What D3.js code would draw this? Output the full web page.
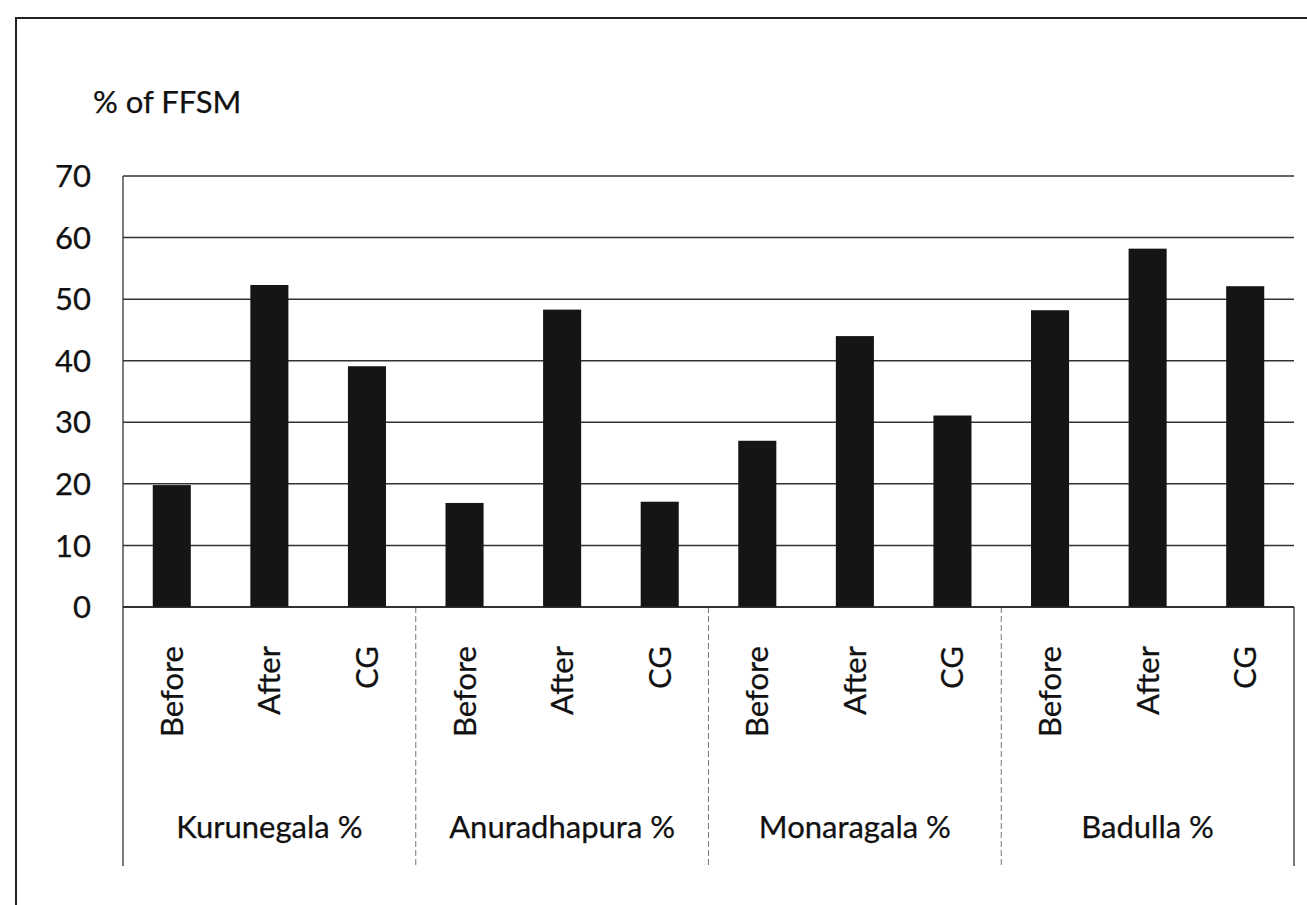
<!DOCTYPE html>
<meta charset="utf-8">
<style>
body { margin: 0; background: #fff; }
svg { font-family: Lato, "Open Sans", sans-serif; }
text { fill: #111; stroke: #111; stroke-width: 0.25px; }
</style>
<svg width="1307" height="905"></svg>
<script src="https://d3js.org/d3.v7.min.js"></script>
<script>

var districts = ["Kurunegala %", "Anuradhapura %", "Monaragala %", "Badulla %"];
var phases = ["Before", "After", "CG"];
var values = [
  [19.8, 52.3, 39.1],
  [16.9, 48.3, 17.1],
  [27.0, 44.0, 31.1],
  [48.2, 58.2, 52.1]
];
var yTicks = [0, 10, 20, 30, 40, 50, 60, 70];

var svg = d3.select("svg"),
    margin = {top: 176, right: 13, bottom: 298, left: 123},
    width = +svg.attr("width"),
    height = +svg.attr("height");

var x0 = d3.scaleBand()
    .domain(districts)
    .range([margin.left, width - margin.right]);

var x1 = d3.scaleBand()
    .domain(phases)
    .range([0, x0.bandwidth()])
    .paddingInner(0.61)
    .paddingOuter(0.305);

var y = d3.scaleLinear()
    .domain([0, 70])
    .range([height - margin.bottom, margin.top]);

// outer frame of the figure
svg.append("rect")
    .attr("x", 16).attr("y", 18)
    .attr("width", width + 20).attr("height", height + 20)
    .attr("fill", "none")
    .attr("stroke", "#222")
    .attr("stroke-width", 2);

svg.append("text")
    .attr("x", 93).attr("y", 113)
    .attr("font-size", 31)
    .text("% of FFSM");

// gridlines
svg.append("g")
  .selectAll("line")
  .data(yTicks)
  .enter().append("line")
    .attr("x1", margin.left)
    .attr("x2", width - margin.right)
    .attr("y1", function(d) { return y(d); })
    .attr("y2", function(d) { return y(d); })
    .attr("stroke", "#333")
    .attr("stroke-width", 1.5);

// y labels
svg.append("g")
  .selectAll("text")
  .data(yTicks)
  .enter().append("text")
    .attr("x", 91)
    .attr("y", function(d) { return y(d); })
    .attr("dy", "0.36em")
    .attr("text-anchor", "end")
    .attr("font-size", 31)
    .text(function(d) { return d; });

// left axis line, right edge, group dividers
var axisBottom = height - margin.bottom;
var dividerBottom = 866;

svg.append("line")
    .attr("x1", margin.left).attr("x2", margin.left)
    .attr("y1", margin.top).attr("y2", dividerBottom)
    .attr("stroke", "#333").attr("stroke-width", 1.3);

svg.append("line")
    .attr("x1", width - margin.right).attr("x2", width - margin.right)
    .attr("y1", axisBottom).attr("y2", dividerBottom)
    .attr("stroke", "#333").attr("stroke-width", 1.3);

svg.append("g")
  .selectAll("line")
  .data(districts.slice(1))
  .enter().append("line")
    .attr("x1", function(d) { return x0(d); })
    .attr("x2", function(d) { return x0(d); })
    .attr("y1", axisBottom)
    .attr("y2", dividerBottom)
    .attr("stroke", "#777")
    .attr("stroke-width", 1)
    .attr("stroke-dasharray", "6,3");

// bars
var group = svg.append("g")
  .selectAll("g")
  .data(districts)
  .enter().append("g")
    .attr("transform", function(d) { return "translate(" + x0(d) + ",0)"; });

group.selectAll("rect")
  .data(function(d, i) { return phases.map(function(p, j) { return {phase: p, value: values[i][j]}; }); })
  .enter().append("rect")
    .attr("x", function(d) { return x1(d.phase); })
    .attr("width", x1.bandwidth())
    .attr("y", function(d) { return y(d.value); })
    .attr("height", function(d) { return y(0) - y(d.value); })
    .attr("fill", "#151515");

// category labels (rotated)
group.selectAll("text.phase")
  .data(phases)
  .enter().append("text")
    .attr("class", "phase")
    .attr("transform", function(d) {
      return "translate(" + (x1(d) + x1.bandwidth() / 2 + 11) + ",646) rotate(-90)";
    })
    .attr("text-anchor", "end")
    .attr("font-size", 31)
    .text(function(d) { return d; });

// district labels
group.append("text")
    .attr("x", x0.bandwidth() / 2)
    .attr("y", 838)
    .attr("text-anchor", "middle")
    .attr("font-size", 31)
    .text(function(d) { return d; });

// zero line on top
svg.append("line")
    .attr("x1", margin.left).attr("x2", width - margin.right)
    .attr("y1", y(0)).attr("y2", y(0))
    .attr("stroke", "#222").attr("stroke-width", 1.5);

</script>
</html>
